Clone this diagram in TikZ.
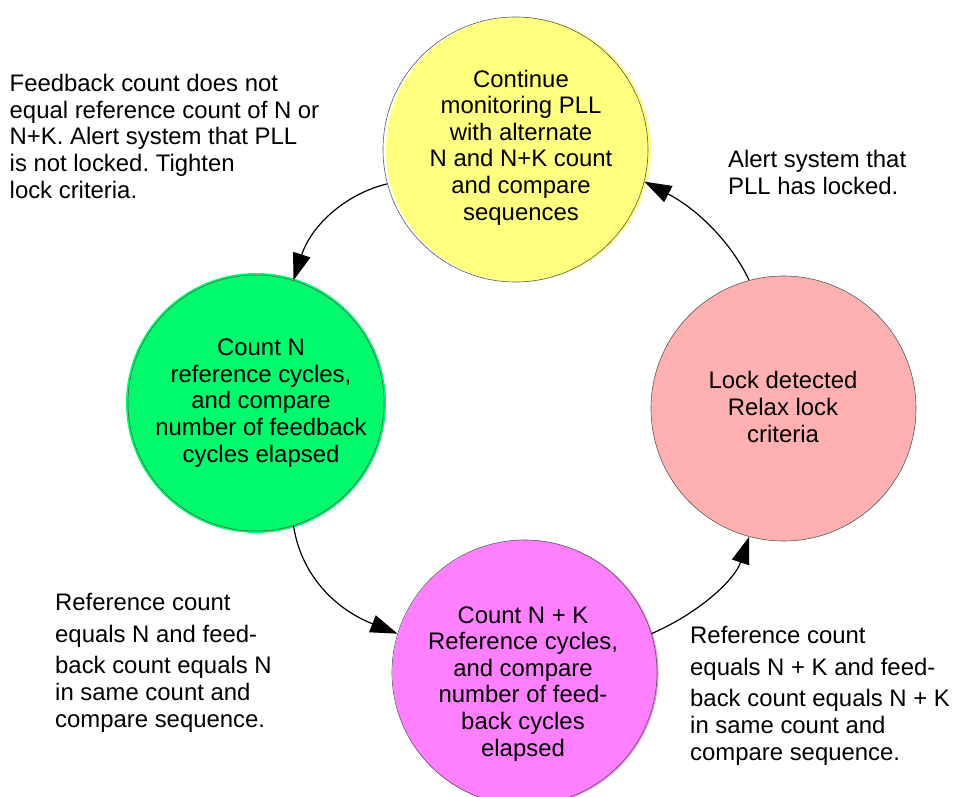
\documentclass[tikz,border=0pt]{standalone}
\usepackage{fontspec}
\setmainfont{Liberation Sans}
\frenchspacing
\usetikzlibrary{arrows.meta}
\definecolor{ylw}{HTML}{FFFF80}
\definecolor{grn}{HTML}{00FA6C}
\definecolor{pnk}{HTML}{FFB0B0}
\definecolor{mgt}{HTML}{FF80FF}
\begin{document}
\begin{tikzpicture}[x=1pt,y=-1pt,
  ring/.style={circle,draw=black!65,line width=0.6pt,inner sep=0pt,minimum size=#1},
  % multi-line nodes are placed by the baseline of their last line
  intext/.style={inner sep=0pt,align=center,anchor=base,
    font=\fontsize{23.9}{26.6}\selectfont},
  sidetext/.style={inner sep=0pt,align=left,anchor=base west,
    font=\fontsize{23.9}{26.6}\selectfont},
  flow/.style={line width=1.2pt,-{Triangle[length=27pt,width=18pt]}}
]
\useasboundingbox (0,0) rectangle (953,797);

% coloured discs, slightly offset from their outlines
\fill[ylw] (518.5,149.5) circle[radius=132.5];
\fill[grn] (256,403) circle[radius=130];
\fill[pnk] (783.5,408.5) circle[radius=132.5];
\fill[mgt] (525.5,673) circle[radius=133];

% state outlines
\node[ring=265pt] (ycirc) at (515.5,149.5) {};
\node[ring=256pt] (gcirc) at (256,403) {};
\node[ring=265pt] (pcirc) at (783.5,408.5) {};
\node[ring=265pt] (mcirc) at (524.5,672.5) {};

% state texts
\node[intext] (ytext) at (521,220) {Continue\\monitoring PLL\\with alternate\\N and N+K count\\and compare\\sequences};
\node[intext] (gtext) at (261,462) {Count N\\reference cycles,\\and compare\\number of feedback\\cycles elapsed};
\node[intext] (ptext) at (783,442) {Lock detected\\Relax lock\\criteria};
\node[intext] (mtext) at (523,756) {Count N + K\\Reference cycles,\\and compare\\number of feed-\\back cycles\\elapsed};

% transition texts
\node[sidetext] (notlocked) at (9.5,198) {Feedback count does not\\equal reference count of N or\\N+K. Alert system that PLL\\is not locked. Tighten\\lock criteria.};
\node[sidetext] (locked) at (728,194) {Alert system that\\PLL has locked.};
\node[sidetext] (eqn) at (55,727) {Reference count\\[5pt]equals N and feed-\\[5pt]back count equals N\\in same count and\\compare sequence.};
\node[sidetext] (eqnk) at (690,760) {Reference count\\[5pt]equals N + K and feed-\\[5pt]back count equals N + K\\in same count and\\compare sequence.};

% transitions
\draw[flow] (ycirc.195) .. controls (345,194) and (311,226) .. (gcirc.73);
\draw[flow] (gcirc.287) .. controls (301,575) and (335,609) .. (mcirc.163);
\draw[flow] (mcirc.17) .. controls (701,612) and (735,579) .. (pcirc.255);
\draw[flow] (pcirc.105) .. controls (731,242) and (697,209) .. (ycirc.346);
\end{tikzpicture}
\end{document}
